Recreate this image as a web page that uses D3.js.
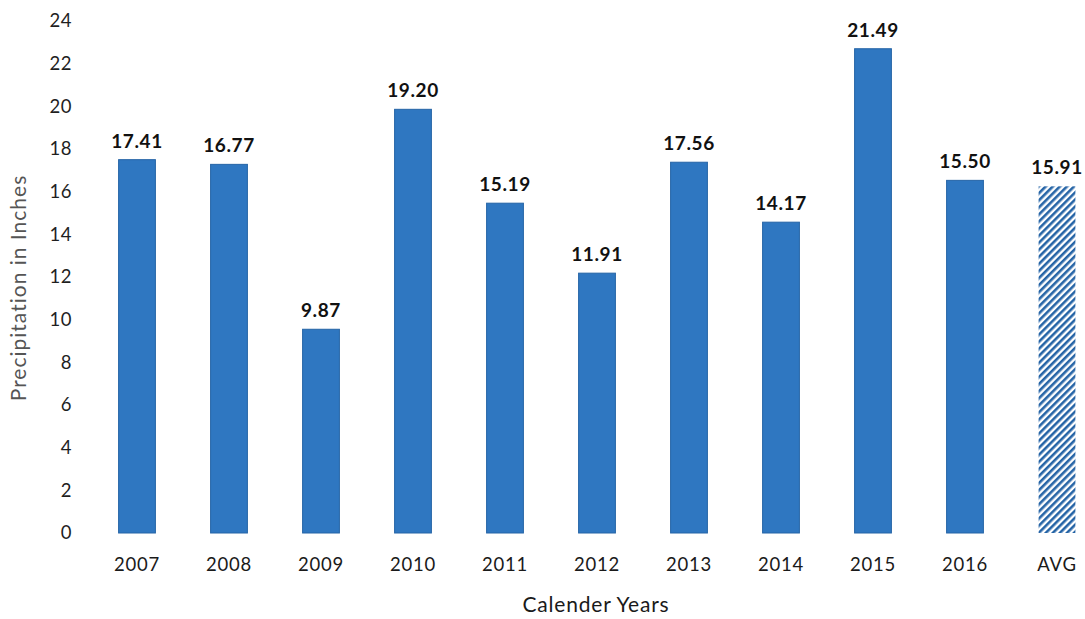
<!DOCTYPE html>
<html>
<head>
<meta charset="utf-8">
<script src="https://cdn.jsdelivr.net/npm/d3@7"></script>
<style>
  html, body { margin: 0; padding: 0; background: #ffffff; }
  svg { display: block; }
  text { font-family: Lato, "Open Sans", "Liberation Sans", sans-serif; }
</style>
</head>
<body>
<svg id="chart" width="1085" height="619"></svg>
<script>
// ---- data ----
const categories = ["2007", "2008", "2009", "2010", "2011", "2012", "2013", "2014", "2015", "2016", "AVG"];
// bar heights as drawn in the picture
const barValues = [17.5, 17.28, 9.55, 19.86, 15.46, 12.18, 17.38, 14.57, 22.7, 16.53, 16.25];
// data labels printed above the bars
const valueLabels = ["17.41", "16.77", "9.87", "19.20", "15.19", "11.91", "17.56", "14.17", "21.49", "15.50", "15.91"];
const yTicks = [0, 2, 4, 6, 8, 10, 12, 14, 16, 18, 20, 22, 24];
const xTitle = "Calender Years";
const yTitle = "Precipitation in Inches";
const avgCategory = "AVG";

// ---- layout ----
const svg = d3.select("#chart");
const blue = "#2f77c1";
const blueEdge = "#2564a6";

const x = d3.scaleBand()
  .domain(categories)
  .range([63.4, 1130.6])
  .paddingInner(0.6)
  .paddingOuter(0.6);

const y = d3.scaleLinear().domain([0, 24]).range([533, 21]);

// hatch pattern for the average bar
const defs = svg.append("defs");
const pat = defs.append("pattern")
  .attr("id", "hatch")
  .attr("patternUnits", "userSpaceOnUse")
  .attr("width", 5)
  .attr("height", 5)
  .attr("patternTransform", "rotate(45)");
pat.append("rect").attr("width", 5).attr("height", 5).attr("fill", "#ffffff");
pat.append("line")
  .attr("x1", 1.3).attr("y1", 0).attr("x2", 1.3).attr("y2", 5)
  .attr("stroke", blueEdge).attr("stroke-width", 2.6);

// y axis (no line, only labels)
const yAxis = svg.append("g")
  .attr("transform", "translate(72,0)")
  .call(d3.axisLeft(y).tickValues(yTicks).tickSize(0).tickPadding(0).tickFormat(d3.format("d")));
yAxis.select(".domain").remove();
yAxis.selectAll("text")
  .attr("font-size", 18.5)
  .attr("letter-spacing", "0.5px")
  .attr("fill", "#1f1f1f")
  .attr("font-family", "Lato, 'Open Sans', sans-serif");

// x axis (no line, only labels)
const xAxis = svg.append("g")
  .attr("transform", "translate(0,558)")
  .call(d3.axisBottom(x).tickSize(0).tickPadding(0));
xAxis.select(".domain").remove();
xAxis.selectAll("text")
  .attr("font-size", 18.5)
  .attr("letter-spacing", "0.8px")
  .attr("fill", "#1a1a1a")
  .attr("font-family", "Lato, 'Open Sans', sans-serif");

// bars
const rows = categories.map((c, i) => ({ cat: c, v: barValues[i], label: valueLabels[i] }));

svg.append("g").selectAll("rect")
  .data(rows)
  .join("rect")
  .attr("x", d => x(d.cat))
  .attr("y", d => y(d.v))
  .attr("width", x.bandwidth())
  .attr("height", d => y(0) - y(d.v))
  .attr("fill", d => d.cat === avgCategory ? "url(#hatch)" : blue)
  .attr("stroke", d => d.cat === avgCategory ? "none" : blueEdge)
  .attr("stroke-width", 1);

// data labels
svg.append("g").selectAll("text")
  .data(rows)
  .join("text")
  .attr("x", d => x(d.cat) + x.bandwidth() / 2)
  .attr("y", d => y(d.v) - 12)
  .attr("text-anchor", "middle")
  .attr("font-size", 19)
  .attr("letter-spacing", "0.6px")
  .attr("font-weight", "bold")
  .attr("fill", "#111111")
  .text(d => d.label);

// axis titles
svg.append("text")
  .attr("x", 596)
  .attr("y", 612)
  .attr("text-anchor", "middle")
  .attr("font-size", 21)
  .attr("letter-spacing", "0.8px")
  .attr("fill", "#1a1a1a")
  .text(xTitle);

svg.append("text")
  .attr("transform", "translate(26,288) rotate(-90)")
  .attr("text-anchor", "middle")
  .attr("font-size", 21)
  .attr("letter-spacing", "1px")
  .attr("fill", "#555555")
  .text(yTitle);
</script>
</body>
</html>
